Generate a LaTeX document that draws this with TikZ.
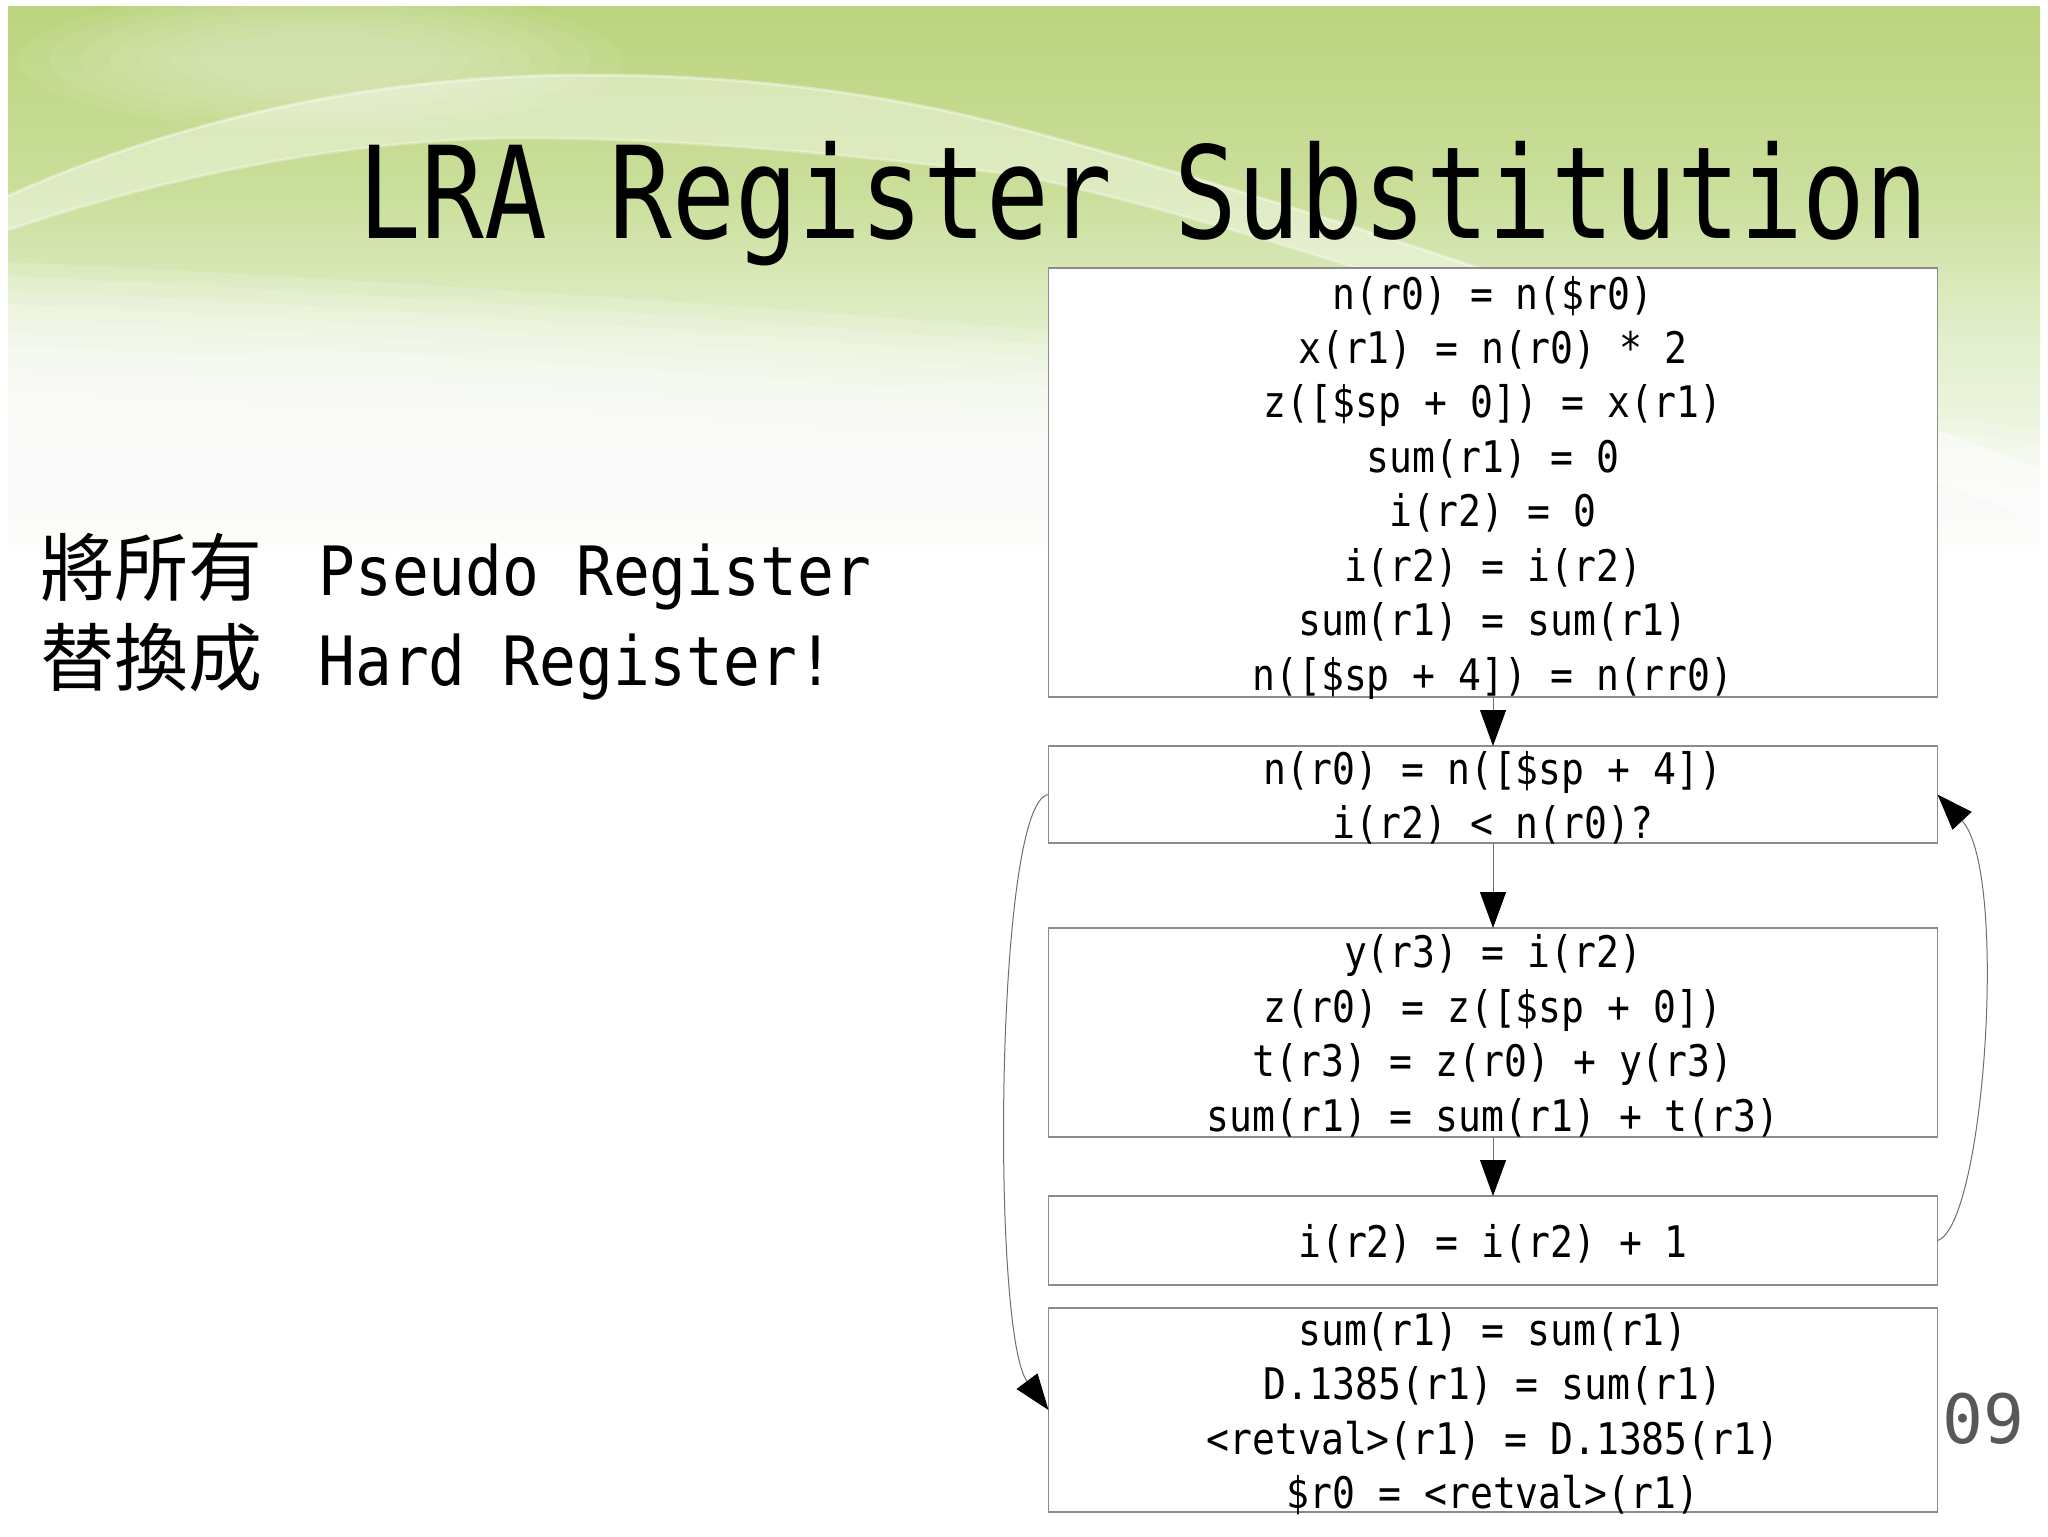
\documentclass[tikz,border=0pt]{standalone}
\usepackage{fontspec}
\usetikzlibrary{arrows.meta,calc}
\newfontfamily\codefont[FakeStretch=0.875]{DejaVu Sans Mono}
\newfontfamily\titlefont[FakeStretch=0.815]{DejaVu Sans Mono}
\newfontfamily\leadfont[FakeStretch=0.9]{DejaVu Sans Mono}
\newfontfamily\numfont{DejaVu Sans Mono}
\newfontfamily\cjkfont{Noto Sans CJK TC}
\definecolor{gDark}{RGB}{188,212,126}
\definecolor{gMid}{RGB}{202,223,155}
\definecolor{gLight}{RGB}{226,239,204}
\definecolor{gFaint}{RGB}{243,248,234}
\definecolor{boxgray}{RGB}{140,140,140}
\definecolor{edgegray}{RGB}{110,110,110}
\definecolor{numgray}{RGB}{88,88,88}
\pgfdeclareverticalshading{bgv}{100bp}{color(0bp)=(white); color(25bp)=(white); color(33bp)=(gFaint); color(45bp)=(gLight); color(58bp)=(gMid); color(75bp)=(gDark); color(100bp)=(gDark)}
\tikzset{
  box/.style={draw=boxgray, fill=white, line width=0.6pt, minimum width=444.5pt, inner sep=0pt, outer sep=0pt},
  codetxt/.style={inner sep=0pt, anchor=base, font=\codefont\fontsize{21.75}{27}\selectfont},
  flow/.style={draw=edgegray, line width=0.5pt, -{Triangle[length=18pt,width=13pt,color=black]}},
}
\begin{document}
\begin{tikzpicture}[x=0.5pt,y=-0.5pt]
\useasboundingbox (0,0) rectangle (2048,1536);
\fill[white] (0,0) rectangle (2048,1536);
% background swoosh
\shade[shading=bgv] (8,7) rectangle (2040,560);
\foreach \k in {0,...,9}
  \fill[white,opacity=0.16] (8,{262+\k*14}) .. controls (400,{280+\k*14}) and (1200,{330+\k*14}) .. (2040,{430+\k*14}) -- (2040,562) -- (8,562) -- cycle;
\foreach \r in {1.0,0.9,0.8,0.7,0.6,0.5,0.4}
  \fill[white,opacity=0.06] (320,60) ellipse ({300*\r} and {70*\r});
\fill[white,opacity=0.4]
  (8,196) .. controls (200,110) and (400,75) .. (590,75) .. controls (800,75) and (950,110) .. (1024,130)
  .. controls (1400,230) and (1800,380) .. (2040,470) -- (2040,520)
  .. controls (1800,430) and (1400,260) .. (1024,176) .. controls (900,160) and (700,138) .. (522,138)
  .. controls (380,138) and (200,165) .. (8,230) -- cycle;
\draw[white,opacity=0.4,line width=1.5pt] (8,196) .. controls (200,110) and (400,75) .. (590,75) .. controls (800,75) and (950,110) .. (1024,130)
  .. controls (1400,230) and (1800,380) .. (2040,470);
\draw[white,opacity=0.3,line width=1.5pt] (8,230) .. controls (200,165) and (380,138) .. (522,138) .. controls (700,138) and (900,160) .. (1024,176)
  .. controls (1400,260) and (1800,430) .. (2040,520);

% title and lead text
\node[anchor=base west, inner sep=0pt, font=\titlefont\fontsize{64}{64}\selectfont] (title) at (358,238) {LRA Register Substitution};
\node[anchor=base west, inner sep=0pt] (lead1) at (40,595) {{\cjkfont\fontsize{37}{37}\selectfont 將所有}\hspace{28pt}{\leadfont\fontsize{34}{34}\selectfont Pseudo Register}};
\node[anchor=base west, inner sep=0pt] (lead2) at (40,685) {{\cjkfont\fontsize{37}{37}\selectfont 替換成}\hspace{28pt}{\leadfont\fontsize{34}{34}\selectfont Hard Register!}};
\node[anchor=base west, inner sep=0pt, text=numgray, font=\numfont\fontsize{34}{34}\selectfont] (pagenum) at (1942,1443) {09};

% boxes
\node[box, minimum height=214.5pt] (b1) at (1493,482.5) {};
\node[box, minimum height=48.5pt] (b2) at (1493,794.5) {};
\node[box, minimum height=104.5pt] (b3) at (1493,1032.5) {};
\node[box, minimum height=44.5pt] (b4) at (1493,1240.5) {};
\node[box, minimum height=102pt] (b5) at (1493,1410) {};

% box texts
\foreach \t [count=\i from 0] in {{n(r0) = n(\$r0)},{x(r1) = n(r0) * 2},{z([\$sp + 0]) = x(r1)},{sum(r1) = 0},{i(r2) = 0},{i(r2) = i(r2)},{sum(r1) = sum(r1)},{n([\$sp + 4]) = n(rr0)}}
  \node[codetxt] (b1t\i) at (1493,{309+\i*54.43}) {\t};
\foreach \t [count=\i from 0] in {{n(r0) = n([\$sp + 4])},{i(r2) < n(r0)?}}
  \node[codetxt] (b2t\i) at (1493,{784.3+\i*54.43}) {\t};
\foreach \t [count=\i from 0] in {{y(r3) = i(r2)},{z(r0) = z([\$sp + 0])},{t(r3) = z(r0) + y(r3)},{sum(r1) = sum(r1) + t(r3)}}
  \node[codetxt] (b3t\i) at (1493,{967.9+\i*54.43}) {\t};
\node[codetxt] (b4t0) at (1493,1257.5) {i(r2) = i(r2) + 1};
\foreach \t [count=\i from 0] in {{sum(r1) = sum(r1)},{D.1385(r1) = sum(r1)},{<retval>(r1) = D.1385(r1)},{\$r0 = <retval>(r1)}}
  \node[codetxt] (b5t\i) at (1493,{1345.4+\i*54.43}) {\t};

% connectors
\draw[flow] (b1.south) -- (b2.north);
\draw[flow] (b2.south) -- (b3.north);
\draw[flow] (b3.south) -- (b4.north);
\draw[flow] (b2.west) .. controls ($(b2.west)+(-53.5,5.5)$) and ($(b5.west)+(-57.5,-77)$) .. (b5.west);
\draw[flow] (b4.east) .. controls ($(b4.east)+(47,-15)$) and ($(b2.east)+(71.5,76.5)$) .. (b2.east);
\end{tikzpicture}
\end{document}
